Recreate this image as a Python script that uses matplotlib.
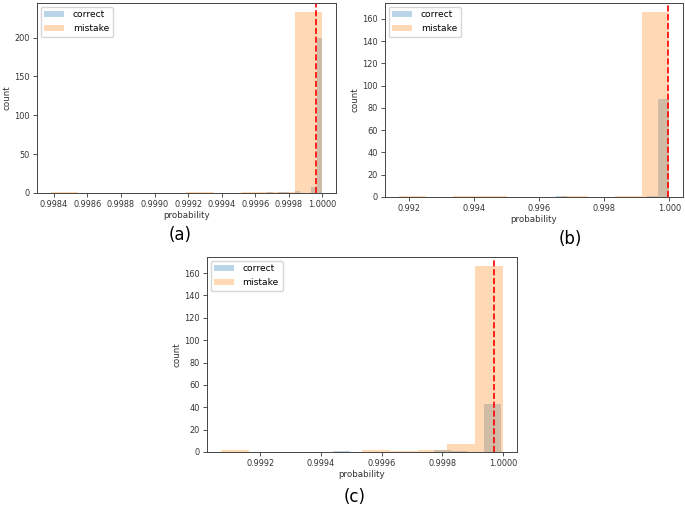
import numpy as np
import matplotlib
matplotlib.use("Agg")
import matplotlib.pyplot as plt
from matplotlib.ticker import FormatStrFormatter

# panel (a)
a_mistake_range = (0.99838, 1.00000)
a_mistake_counts = [1, 0, 0, 0, 0, 1, 0, 1, 1, 233]
a_correct_range = (0.99967, 1.00000)
a_correct_counts = [1, 0, 1, 1, 0, 2, 0, 0, 7, 200]
a_threshold = 0.99996
a_xticks = [0.9984, 0.9986, 0.9988, 0.9990, 0.9992, 0.9994, 0.9996, 0.9998, 1.0000]

# panel (b)
b_mistake_range = (0.99167, 1.00000)
b_mistake_counts = [1, 0, 1, 1, 0, 0, 1, 0, 1, 166]
b_correct_range = (0.99650, 1.00000)
b_correct_counts = [1, 0, 0, 0, 0, 0, 0, 0, 1, 88]
b_threshold = 0.99997
b_xticks = [0.992, 0.994, 0.996, 0.998, 1.000]

# panel (c)
c_mistake_range = (0.99907, 1.00000)
c_mistake_counts = [2, 0, 0, 0, 0, 2, 1, 2, 7, 166]
c_correct_range = (0.99944, 0.999994)
c_correct_counts = [1, 0, 0, 0, 0, 0, 2, 1, 0, 43]
c_threshold = 0.99997
c_xticks = [0.9992, 0.9994, 0.9996, 0.9998, 1.0000]

plt.rcParams["font.family"] = "DejaVu Sans"
tick_fs = 5.9
label_fs = 6.3

fig = plt.figure(figsize=(6.85, 5.05), dpi=100)


def draw(ax, c_range, c_counts, m_range, m_counts, thr, xticks, fmt):
    c_edges = np.linspace(c_range[0], c_range[1], len(c_counts) + 1)
    m_edges = np.linspace(m_range[0], m_range[1], len(m_counts) + 1)
    ax.hist(c_edges[:-1], bins=c_edges, weights=c_counts, alpha=0.3, label="correct")
    ax.hist(m_edges[:-1], bins=m_edges, weights=m_counts, alpha=0.3, label="mistake")
    ax.axvline(thr, color="red", linestyle="--", linewidth=1.2)
    ax.set_xticks(xticks)
    ax.xaxis.set_major_formatter(FormatStrFormatter(fmt))
    ax.tick_params(labelsize=tick_fs, length=3, width=0.6, pad=2, colors="#333333")
    for s in ax.spines.values():
        s.set_linewidth(0.7)
        s.set_color("#444444")
    ax.set_xlabel("probability", fontsize=label_fs, labelpad=1.5, color="#333333")
    ax.set_ylabel("count", fontsize=label_fs, labelpad=2, color="#333333")
    ax.legend(loc="upper left", fontsize=6.6, handlelength=2.2, handletextpad=0.9,
              borderaxespad=0.4)


ax_a = fig.add_axes([0.054, 0.618, 0.4365, 0.376])
draw(ax_a, a_correct_range, a_correct_counts, a_mistake_range, a_mistake_counts,
     a_threshold, a_xticks, "%.4f")
ax_a.set_yticks([0, 50, 100, 150, 200])

ax_b = fig.add_axes([0.562, 0.610, 0.435, 0.384])
draw(ax_b, b_correct_range, b_correct_counts, b_mistake_range, b_mistake_counts,
     b_threshold, b_xticks, "%.3f")
ax_b.set_yticks(range(0, 161, 20))

ax_c = fig.add_axes([0.302, 0.105, 0.453, 0.386])
draw(ax_c, c_correct_range, c_correct_counts, c_mistake_range, c_mistake_counts,
     c_threshold, c_xticks, "%.4f")
ax_c.set_yticks(range(0, 161, 20))

fig.text(0.263, 0.535, "(a)", fontsize=12, ha="center", va="center")
fig.text(0.832, 0.527, "(b)", fontsize=12, ha="center", va="center")
fig.text(0.518, 0.016, "(c)", fontsize=12, ha="center", va="center")

fig.savefig("out.png", dpi=100)
